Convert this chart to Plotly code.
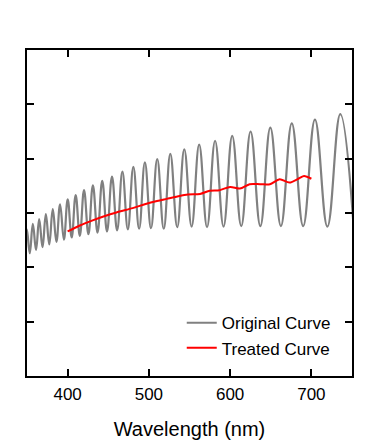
import plotly.graph_objects as go

# Original curve: fringe extrema (wavelength in nm, signal in arbitrary units)
orig_wl = [346.0, 349.7, 353.4, 357.2, 361.1, 365.0, 369.1, 373.2, 377.4, 381.7,
           386.2, 390.7, 395.4, 400.1, 405.0, 409.9, 415.0, 420.2, 425.6, 431.1,
           436.8, 442.6, 448.5, 454.6, 460.9, 467.4, 474.1, 480.9, 488.0, 495.1,
           502.6, 510.3, 518.3, 526.4, 534.9, 543.6, 552.6, 561.9, 571.6, 581.5,
           591.9, 602.6, 613.7, 625.2, 637.2, 649.5, 662.5, 675.9, 689.9, 704.4,
           719.7, 735.6, 752.0]
orig_val = [2.22, 2.70, 2.26, 2.80, 2.32, 2.89, 2.37, 2.98, 2.42, 3.07,
            2.47, 3.16, 2.51, 3.25, 2.55, 3.33, 2.58, 3.42, 2.61, 3.51,
            2.64, 3.59, 2.66, 3.67, 2.68, 3.76, 2.70, 3.85, 2.71, 3.93,
            2.72, 3.99, 2.71, 4.09, 2.74, 4.17, 2.75, 4.26, 2.74, 4.33,
            2.75, 4.42, 2.76, 4.50, 2.76, 4.57, 2.76, 4.65, 2.76, 4.72,
            2.75, 4.82, 2.75]

# Treated curve
treat_wl = [400, 415, 430, 445, 460, 480, 495, 510, 522, 534, 548, 563,
            575, 587, 600, 612, 624, 637, 649, 661, 673, 685, 691, 700]
treat_val = [2.66, 2.77, 2.86, 2.94, 3.01, 3.09, 3.16, 3.22, 3.26, 3.30, 3.34, 3.35,
             3.41, 3.42, 3.48, 3.45, 3.53, 3.53, 3.53, 3.62, 3.56, 3.64, 3.68, 3.63]

x_ticks = [400, 500, 600, 700]
y_ticks = [1, 2, 3, 4, 5]
x_range = [350, 750]

FONT = "Liberation Sans, Arial, sans-serif"

fig = go.Figure()
fig.add_trace(go.Scatter(x=orig_wl, y=orig_val, mode="lines", name="Original Curve",
                         xaxis="x", yaxis="y",
                         line=dict(color="#808080", width=2.2, shape="spline", smoothing=1.2)))
fig.add_trace(go.Scatter(x=treat_wl, y=treat_val, mode="lines", name="Treated Curve",
                         xaxis="x2", yaxis="y",
                         line=dict(color="#ff0000", width=2, shape="spline", smoothing=0.8)))

# page body has an 8px default margin, so the figure is 8px smaller each way
fig.update_layout(
    width=371, height=435,
    margin=dict(l=19, r=27, t=42, b=67, autoexpand=False),
    paper_bgcolor="white", plot_bgcolor="white",
    font=dict(family=FONT, size=17, color="black"),
    showlegend=True,
    legend=dict(x=0.95, xanchor="right", y=0.03, yanchor="bottom",
                bgcolor="rgba(0,0,0,0)", font=dict(size=17),
                itemwidth=30),
    # frame axis: inside ticks on both sides, no labels
    xaxis=dict(range=x_range, tickvals=x_ticks, ticks="inside", ticklen=7, tickwidth=2,
               tickcolor="black", showline=True, linewidth=2, linecolor="black",
               mirror="ticks", showgrid=False, zeroline=False, showticklabels=False,
               automargin=False),
    # label axis: same scale, carries the tick labels and the title
    xaxis2=dict(range=x_range, matches="x", tickvals=x_ticks, overlaying="x", side="bottom",
                ticks="outside", ticklen=3, tickcolor="rgba(0,0,0,0)",
                showline=False, showgrid=False, zeroline=False, automargin=False,
                tickfont=dict(size=17),
                title=dict(text="Wavelength (nm)", font=dict(size=20), standoff=18)),
    yaxis=dict(range=[0, 6], tickvals=y_ticks, ticks="inside", ticklen=7, tickwidth=2,
               tickcolor="black", showline=True, linewidth=2, linecolor="black",
               mirror="ticks", showgrid=False, zeroline=False, showticklabels=False,
               automargin=False),
)

fig.write_html("out.html")
